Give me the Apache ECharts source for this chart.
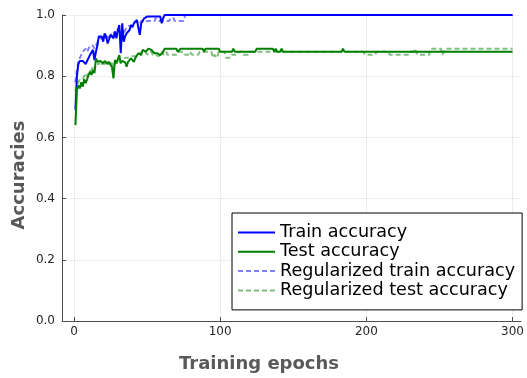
<!DOCTYPE html>
<html>
<head>
<meta charset="utf-8">
<script src="https://cdn.jsdelivr.net/npm/echarts@6/dist/echarts.min.js"></script>
<style>
  html, body { margin: 0; padding: 0; background: #ffffff; }
  #chart { width: 527px; height: 378px; }
</style>
</head>
<body>
<div id="chart"></div>
<script>
// Accuracy per training epoch. Each series lists the epochs where the curve
// changes together with its value there; flat stretches are given by their ends.

const trainEpochs = [1,2,3,4,5,6,7,8,9,10,11,12,13,14,15,16,17,18,19,20,21,22,23,24,25,
  26,27,28,29,30,31,32,33,34,35,36,37,38,39,40,41,42,43,44,45,46,47,48,49,50,
  59,60,61,62,70,71,72,300];
const trainAcc = [0.69,0.80,0.84,0.85,0.85,0.85,0.855,0.84,0.85,0.86,0.87,0.865,0.886,0.853,0.88,
  0.90,0.93,0.925,0.93,0.913,0.94,0.93,0.907,0.92,0.935,0.94,0.924,0.946,0.924,0.95,
  0.967,0.875,0.973,0.913,0.93,0.94,0.945,0.951,0.967,0.96,0.973,0.975,0.984,0.978,0.935,
  0.973,0.98,0.989,0.99,0.995,
  0.995,0.973,0.99,1.0,1.0,0.995,1.0,1.0];

const testEpochs = [1,2,3,4,5,6,7,8,9,10,11,12,13,14,15,16,17,18,19,20,21,22,23,24,25,
  26,27,28,29,30,31,32,33,34,35,36,37,38,39,40,41,42,43,44,45,46,47,48,49,50,
  51,52,53,54,55,56,57,58,59,60,61,62,
  70,71,72,73,88,89,90,99,100,108,109,110,
  124,125,136,137,138,139,141,142,143,183,184,185,300];
const testAcc = [0.64,0.755,0.77,0.76,0.78,0.766,0.79,0.777,0.79,0.804,0.815,0.804,0.82,0.81,0.858,
  0.847,0.853,0.85,0.845,0.842,0.85,0.847,0.84,0.847,0.837,
  0.83,0.793,0.853,0.842,0.847,0.869,0.842,0.85,0.847,0.845,0.831,0.847,0.842,0.858,0.853,
  0.847,0.86,0.864,0.875,0.87,0.869,0.886,0.88,0.88,0.886,
  0.89,0.891,0.886,0.886,0.875,0.88,0.875,0.869,0.869,0.875,0.88,0.89,
  0.89,0.88,0.88,0.89,0.89,0.88,0.89,0.89,0.88,0.88,0.89,0.88,
  0.88,0.89,0.89,0.88,0.89,0.88,0.88,0.89,0.88,0.88,0.89,0.88,0.88];

const regTrainEpochs = [1,2,3,4,5,6,7,8,9,10,11,12,13,14,15,16,17,18,19,20,21,22,23,24,25,
  26,27,28,29,30,31,32,33,34,35,36,37,38,39,40,41,42,43,44,45,46,47,48,
  50,55,56,58,65,66,68,69,75,76,300];
const regTrainAcc = [0.78,0.82,0.85,0.86,0.87,0.88,0.875,0.89,0.88,0.89,0.90,0.895,0.90,0.89,0.90,
  0.905,0.92,0.93,0.915,0.92,0.935,0.925,0.92,0.93,0.94,
  0.93,0.945,0.94,0.935,0.955,0.94,0.93,0.95,0.935,0.95,0.96,0.955,0.965,0.97,0.965,
  0.975,0.97,0.98,0.975,0.97,0.98,0.98,0.985,
  0.98,0.98,0.99,0.98,0.98,0.99,0.99,0.98,0.98,1.0,1.0];

const regTestEpochs = [1,2,3,4,5,6,7,8,9,10,11,12,13,14,15,16,17,18,19,20,21,22,23,24,25,
  26,27,28,29,30,31,32,33,34,35,36,37,38,39,40,41,42,43,44,45,46,47,48,49,50,
  51,52,53,54,55,56,57,58,59,60,61,62,63,64,70,71,75,76,78,79,80,81,85,86,
  94,95,96,98,99,103,104,107,108,112,113,115,116,119,120,
  198,199,206,207,215,216,229,230,232,233,234,235,243,244,251,252,253,254,300];
const regTestAcc = [0.75,0.77,0.78,0.79,0.785,0.79,0.80,0.81,0.80,0.81,0.81,0.82,0.83,0.82,0.84,
  0.845,0.84,0.85,0.84,0.845,0.84,0.85,0.845,0.84,0.85,
  0.84,0.83,0.845,0.85,0.855,0.85,0.845,0.855,0.85,0.86,0.855,0.86,0.855,0.865,0.86,
  0.865,0.87,0.865,0.87,0.875,0.87,0.88,0.875,0.88,0.87,
  0.88,0.885,0.88,0.87,0.875,0.87,0.87,0.865,0.87,0.88,0.87,0.87,0.88,0.87,0.87,0.88,0.88,0.87,0.87,0.88,0.88,0.87,0.87,0.88,
  0.88,0.86,0.87,0.86,0.88,0.88,0.86,0.86,0.87,0.87,0.88,0.88,0.87,0.87,0.88,
  0.88,0.87,0.87,0.88,0.88,0.87,0.87,0.88,0.88,0.89,0.89,0.87,0.87,0.89,0.89,0.87,0.87,0.89,0.89];

const xTicks = [0, 100, 200, 300];
const seriesNames = ['Train accuracy', 'Test accuracy', 'Regularized train accuracy', 'Regularized test accuracy'];

const pairs = (xs, ys) => xs.map((x, i) => [x, ys[i]]);

const FONT = 'DejaVu Sans';
const AXIS_COLOR = '#4d4d4d';
const GRID_COLOR = '#ececec';

function lineSeries(name, data, color, dashed) {
  return {
    name: name,
    type: 'line',
    data: data,
    symbol: 'none',
    showSymbol: false,
    animation: false,
    silent: true,
    lineStyle: { color: color, width: 2, type: dashed ? [5, 3] : 'solid' },
    itemStyle: { color: color },
    emphasis: { disabled: true }
  };
}

const chart = echarts.init(document.getElementById('chart'), null, { renderer: 'canvas' });

chart.setOption({
  backgroundColor: '#ffffff',
  animation: false,
  grid: { left: 62, top: 15, right: 5, bottom: 57, containLabel: false },
  xAxis: {
    type: 'value',
    min: -8.2,
    max: 305.8,
    axisLine: { show: true, onZero: false, lineStyle: { color: AXIS_COLOR, width: 1 } },
    axisTick: { show: true, inside: true, length: 4, customValues: xTicks, lineStyle: { color: AXIS_COLOR } },
    axisLabel: { customValues: xTicks, color: '#262626', fontFamily: FONT, fontSize: 12, margin: 5 },
    splitLine: { show: true, lineStyle: { color: GRID_COLOR, width: 1 } }
  },
  yAxis: {
    type: 'value',
    min: 0,
    max: 1,
    interval: 0.2,
    axisLine: { show: true, onZero: false, lineStyle: { color: AXIS_COLOR, width: 1 } },
    axisTick: { show: true, inside: true, length: 4, lineStyle: { color: AXIS_COLOR } },
    axisLabel: {
      color: '#262626', fontFamily: FONT, fontSize: 12, margin: 7,
      formatter: v => v.toFixed(1)
    },
    splitLine: { show: true, lineStyle: { color: GRID_COLOR, width: 1 } }
  },
  legend: {
    data: seriesNames,
    orient: 'vertical',
    left: 232,
    top: 213,
    backgroundColor: '#ffffff',
    borderColor: '#000000',
    borderWidth: 1,
    borderRadius: 0,
    padding: [10, 7, 10, 5],
    itemWidth: 37,
    itemHeight: 10,
    itemGap: 0.3,
    itemStyle: { opacity: 0 },
    selectedMode: false,
    textStyle: { fontFamily: FONT, fontSize: 17.6, color: '#000000', lineHeight: 19 }
  },
  graphic: [
    {
      type: 'text',
      x: 19, y: 175,
      rotation: Math.PI / 2,
      style: {
        text: 'Accuracies',
        font: 'bold 18px "DejaVu Sans"',
        fill: '#595959',
        textAlign: 'center',
        textVerticalAlign: 'middle'
      }
    },
    {
      type: 'text',
      x: 259, y: 364,
      style: {
        text: 'Training epochs',
        font: 'bold 18px "DejaVu Sans"',
        fill: '#595959',
        textAlign: 'center',
        textVerticalAlign: 'middle'
      }
    }
  ],
  series: [
    lineSeries(seriesNames[0], pairs(trainEpochs, trainAcc), '#0000ff', false),
    lineSeries(seriesNames[1], pairs(testEpochs, testAcc), '#008000', false),
    lineSeries(seriesNames[2], pairs(regTrainEpochs, regTrainAcc), 'rgba(0,0,255,0.5)', true),
    lineSeries(seriesNames[3], pairs(regTestEpochs, regTestAcc), 'rgba(0,128,0,0.5)', true)
  ]
});
</script>
</body>
</html>
